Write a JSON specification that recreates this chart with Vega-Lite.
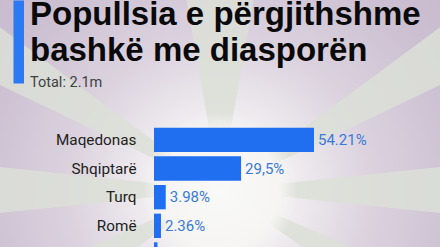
{
  "$schema": "https://vega.github.io/schema/vega-lite/v6.json",
  "width": 440,
  "height": 380,
  "autosize": {"type": "none"},
  "padding": 0,
  "background": "#c6b9cc",
  "config": {"view": {"stroke": null}, "font": "Roboto"},
  "title": {
    "text": ["Popullsia e përgjithshme", "bashkë me diasporën"],
    "subtitle": "Total: 2.1m",
    "anchor": "start",
    "frame": "group",
    "orient": "top",
    "offset": -89.3,
    "dx": 30,
    "font": "Liberation Sans",
    "fontSize": 33,
    "fontWeight": "bold",
    "color": "#0a0a0a",
    "lineHeight": 35.7,
    "subtitleFont": "Roboto",
    "subtitleFontSize": 14.5,
    "subtitleColor": "#404040",
    "subtitlePadding": 8
  },
  "datasets": {
    "groups": [
      {"group": "Maqedonas", "share": 54.21, "label": "54.21%"},
      {"group": "Shqiptarë", "share": 29.5, "label": "29,5%"},
      {"group": "Turq", "share": 3.98, "label": "3.98%"},
      {"group": "Romë", "share": 2.36, "label": "2.36%"},
      {"group": "Serbë", "share": 1.18, "label": "1.18%"}
    ],
    "rays": [
      {"from": -10, "to": 10},
      {"from": 53.5, "to": 64.5},
      {"from": 84, "to": 96},
      {"from": 113.5, "to": 124.5},
      {"from": 170, "to": 190},
      {"from": 235.5, "to": 246.5},
      {"from": 264, "to": 276},
      {"from": 295.5, "to": 306.5}
    ]
  },
  "resolve": {"scale": {"y": "independent"}, "axis": {"y": "independent"}},
  "layer": [
    {
      "data": {"values": [{}]},
      "mark": {
        "type": "arc",
        "theta": 0,
        "theta2": 6.2832,
        "radius": 330,
        "clip": true,
        "fill": {
          "gradient": "radial",
          "x1": 0.5, "y1": 0.5, "r1": 0,
          "x2": 0.5, "y2": 0.5, "r2": 0.5,
          "stops": [
            {"offset": 0, "color": "#f7f6f4"},
            {"offset": 0.22, "color": "#f0edf0"},
            {"offset": 0.45, "color": "#dcd3df"},
            {"offset": 0.75, "color": "#cbbfd1"},
            {"offset": 1, "color": "#c6b9cc"}
          ]
        }
      },
      "encoding": {
        "y": {
          "datum": 0.5,
          "type": "quantitative",
          "scale": {"domain": [0, 1], "reverse": true, "nice": false, "zero": false},
          "axis": {
            "title": null,
            "orient": "left",
            "offset": -18.25,
            "domain": true,
            "domainColor": "#2b79f3",
            "domainWidth": 10.5,
            "domainDash": [83, 2000],
            "labels": false,
            "ticks": false,
            "grid": false,
            "zindex": 1
          }
        }
      }
    },
    {
      "data": {"name": "rays"},
      "mark": {"type": "arc", "radius": 420, "clip": true, "fill": "#dcdfd7", "opacity": 0.85},
      "encoding": {
        "theta": {"field": "from", "type": "quantitative", "stack": null, "scale": {"domain": [0, 360], "range": [0, 6.28319]}},
        "theta2": {"field": "to"}
      }
    },
    {
      "data": {"values": [{}]},
      "mark": {
        "type": "arc",
        "theta": 0,
        "theta2": 6.2832,
        "radius": 78,
        "clip": true,
        "fill": {
          "gradient": "radial",
          "x1": 0.5, "y1": 0.5, "r1": 0,
          "x2": 0.5, "y2": 0.5, "r2": 0.5,
          "stops": [
            {"offset": 0, "color": "#f9f9f7"},
            {"offset": 0.75, "color": "#f6f5f3"},
            {"offset": 1, "color": "rgba(244,242,242,0)"}
          ]
        }
      }
    },
    {
      "data": {"name": "groups"},
      "encoding": {
        "y": {
          "field": "group",
          "type": "nominal",
          "sort": null,
          "scale": {"range": [125.55, 268.8], "paddingInner": 0.15, "paddingOuter": 0.075, "align": 0.5},
          "axis": {
            "title": null,
            "orient": "left",
            "offset": -136,
            "domain": false,
            "ticks": false,
            "tickSize": 0,
            "grid": false,
            "labelPadding": 0,
            "labelFont": "Roboto",
            "labelFontSize": 15.3,
            "labelColor": "#222222",
            "zindex": 1
          }
        },
        "x": {
          "field": "share",
          "type": "quantitative",
          "scale": {"domain": [-52.18, 96.9], "nice": false},
          "axis": null
        }
      },
      "layer": [
        {"mark": {"type": "bar", "color": "#1f6ff0"}},
        {
          "mark": {"type": "text", "align": "left", "baseline": "middle", "dx": 4, "font": "Roboto", "fontSize": 15, "color": "#3a7ad6"},
          "encoding": {"text": {"field": "label"}}
        }
      ]
    }
  ]
}
